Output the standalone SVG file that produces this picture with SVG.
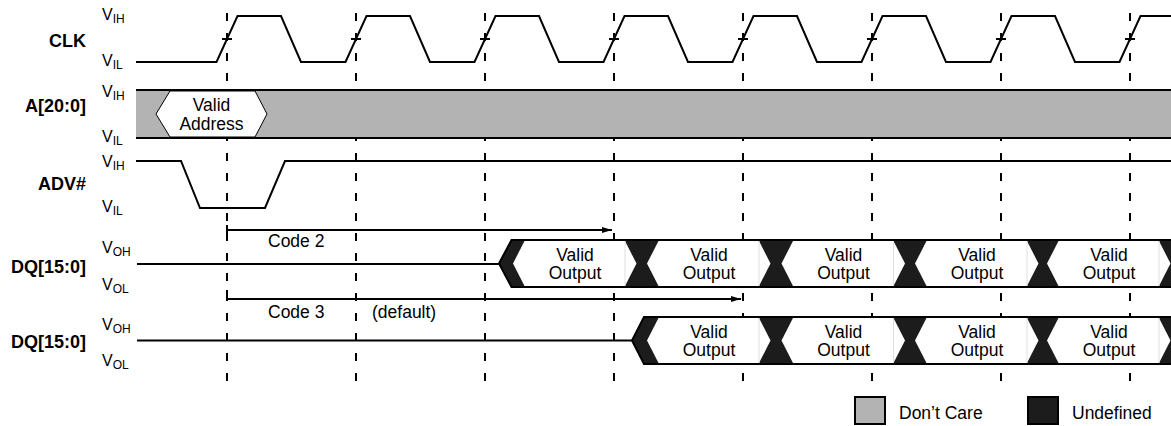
<svg xmlns="http://www.w3.org/2000/svg" width="1171" height="426" viewBox="0 0 1171 426">
<style>
.lbl{font-family:"Liberation Sans",Arial,sans-serif;font-weight:bold;font-size:18px;fill:#000;text-anchor:end}
.v{font-family:"Liberation Sans",Arial,sans-serif;font-size:16px;fill:#000}
.t{font-family:"Liberation Sans",Arial,sans-serif;font-size:17.5px;fill:#000}
.c{font-family:"Liberation Sans",Arial,sans-serif;font-size:17.5px;fill:#000;text-anchor:middle}
.sig{fill:none;stroke:#000;stroke-width:2}
.dash{fill:none;stroke:#000;stroke-width:2;stroke-dasharray:8 12}
.und{fill:#1c1c1c;stroke:#000;stroke-width:2}
.cell{fill:#fff;stroke:none}
.edge{stroke:#e0e0e0;stroke-width:1}
</style>
<defs>
<marker id="ah" viewBox="0 0 10 6" refX="10" refY="3" markerWidth="10" markerHeight="6" markerUnits="userSpaceOnUse" orient="auto"><path d="M0,0 L10,3 L0,6 Z" fill="#000"/></marker>
</defs>

<g id="connectors">
<path class="dash" d="M227,13 V383 M356,13 V383 M485,13 V383 M614,13 V383 M743,13 V383 M872,13 V383 M1001,13 V383 M1130,13 V383"/>
<path class="sig" d="M227,225 V235 M227,290 V300"/>
<path class="sig" d="M227,230 H612" marker-end="url(#ah)"/>
<path class="sig" d="M227,299 H741" marker-end="url(#ah)"/>
<text class="t" x="268" y="247">Code 2</text>
<text class="t" x="268" y="318">Code 3</text>
<text class="t" x="372" y="318">(default)</text>
</g>

<g id="labels">
<text class="lbl" x="86" y="47">CLK</text>
<text class="lbl" x="86" y="112">A[20:0]</text>
<text class="lbl" x="86" y="190">ADV#</text>
<text class="lbl" x="86" y="273">DQ[15:0]</text>
<text class="lbl" x="86" y="348">DQ[15:0]</text>
<text class="v" x="102" y="20">V<tspan font-size="12" dy="3">IH</tspan></text>
<text class="v" x="102" y="66">V<tspan font-size="12" dy="3">IL</tspan></text>
<text class="v" x="102" y="97">V<tspan font-size="12" dy="3">IH</tspan></text>
<text class="v" x="102" y="142">V<tspan font-size="12" dy="3">IL</tspan></text>
<text class="v" x="102" y="167">V<tspan font-size="12" dy="3">IH</tspan></text>
<text class="v" x="102" y="212">V<tspan font-size="12" dy="3">IL</tspan></text>
<text class="v" x="102" y="253">V<tspan font-size="12" dy="3">OH</tspan></text>
<text class="v" x="102" y="290">V<tspan font-size="12" dy="3">OL</tspan></text>
<text class="v" x="102" y="330">V<tspan font-size="12" dy="3">OH</tspan></text>
<text class="v" x="102" y="366">V<tspan font-size="12" dy="3">OL</tspan></text>
</g>

<g id="clk">
<path class="sig" d="M136,62 H216.5 L237.5,16 H281 L301,62 H345.5 L366.5,16 H410 L430,62 H474.5 L495.5,16 H539 L559,62 H603.5 L624.5,16 H668 L688,62 H732.5 L753.5,16 H797 L817,62 H861.5 L882.5,16 H926 L946,62 H990.5 L1011.5,16 H1055 L1075,62 H1119.5 L1140.5,16 H1171"/>
<path class="sig" d="M222,39 H232 M351,39 H361 M480,39 H490 M609,39 H619 M738,39 H748 M867,39 H877 M996,39 H1006 M1125,39 H1135"/>
</g>

<g id="addr">
<rect x="136" y="90" width="1035" height="48" fill="#b3b3b3"/>
<path class="sig" d="M136,90 H1171 M136,138 H1171"/>
<polygon points="156,114 170,91 255,91 267,114 255,137 170,137" fill="#fff" stroke="#000" stroke-width="1"/>
<text class="c" x="211.5" y="111">Valid</text>
<text class="c" x="211.5" y="129.5">Address</text>
</g>

<g id="adv">
<path class="sig" d="M136,161 H181 L200,208 H265 L285,161 H1171"/>
</g>

<g id="dq1">
<path class="sig" d="M137,264 H499"/>
<path class="und" d="M499,263.5 L511.5,240 H1172 V287 H511.5 Z"/>
<polygon class="cell" points="513,263.5 524.5,241 625,241 636.5,263.5 625,286 524.5,286"/>
<polygon class="cell" points="647,263.5 658.5,241 759,241 770.5,263.5 759,286 658.5,286"/>
<polygon class="cell" points="781.5,263.5 793,241 893.5,241 905,263.5 893.5,286 793,286"/>
<polygon class="cell" points="915,263.5 926.5,241 1027,241 1038.5,263.5 1027,286 926.5,286"/>
<polygon class="cell" points="1047,263.5 1058.5,241 1159,241 1170.5,263.5 1159,286 1058.5,286"/>
<path class="edge" d="M625,241 V286 M759,241 V286 M893.5,241 V286 M1027,241 V286 M1159,241 V286"/>
<text class="c" x="575" y="260.5">Valid</text><text class="c" x="575" y="279">Output</text>
<text class="c" x="709" y="260.5">Valid</text><text class="c" x="709" y="279">Output</text>
<text class="c" x="843.5" y="260.5">Valid</text><text class="c" x="843.5" y="279">Output</text>
<text class="c" x="977" y="260.5">Valid</text><text class="c" x="977" y="279">Output</text>
<text class="c" x="1109" y="260.5">Valid</text><text class="c" x="1109" y="279">Output</text>
</g>

<g id="dq2">
<path class="sig" d="M137,340.5 H632"/>
<path class="und" d="M632,340.5 L644,317 H1172 V364 H644 Z"/>
<polygon class="cell" points="647,340.5 658.5,318 759,318 770.5,340.5 759,363 658.5,363"/>
<polygon class="cell" points="781.5,340.5 793,318 893.5,318 905,340.5 893.5,363 793,363"/>
<polygon class="cell" points="915,340.5 926.5,318 1027,318 1038.5,340.5 1027,363 926.5,363"/>
<polygon class="cell" points="1047,340.5 1058.5,318 1159,318 1170.5,340.5 1159,363 1058.5,363"/>
<path class="edge" d="M759,318 V363 M893.5,318 V363 M1027,318 V363 M1159,318 V363"/>
<text class="c" x="709" y="337.5">Valid</text><text class="c" x="709" y="356">Output</text>
<text class="c" x="843.5" y="337.5">Valid</text><text class="c" x="843.5" y="356">Output</text>
<text class="c" x="977" y="337.5">Valid</text><text class="c" x="977" y="356">Output</text>
<text class="c" x="1109" y="337.5">Valid</text><text class="c" x="1109" y="356">Output</text>
</g>

<g id="legend">
<rect x="855" y="397" width="30" height="27" fill="#b3b3b3" stroke="#000" stroke-width="2"/>
<text class="t" x="899" y="419">Don’t Care</text>
<rect x="1028" y="397" width="30" height="27" fill="#1c1c1c" stroke="#000" stroke-width="2"/>
<text class="t" x="1072" y="419">Undefined</text>
</g>
</svg>
